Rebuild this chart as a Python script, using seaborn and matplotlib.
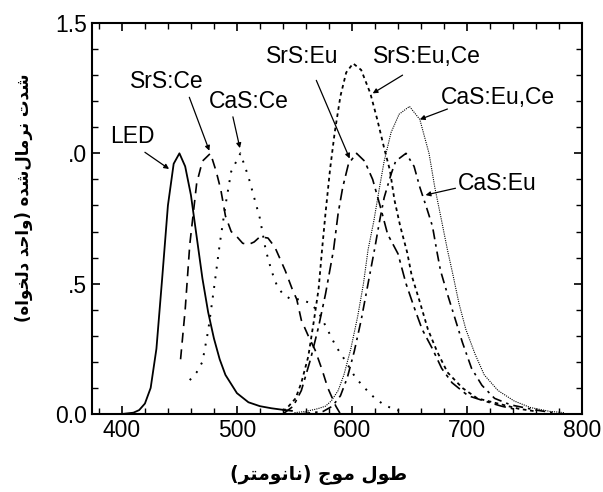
import numpy as np
import pandas as pd
import matplotlib
matplotlib.use("Agg")
import matplotlib.pyplot as plt
import seaborn as sns

# emission spectra (wavelength nm, normalised intensity)
led_wl = [400, 410, 415, 420, 425, 430, 435, 440, 445, 450, 455, 460, 465, 470, 475, 480, 485, 490, 500, 510, 520, 530, 540, 548]
led_y = [0.0, 0.005, 0.015, 0.04, 0.10, 0.25, 0.52, 0.80, 0.96, 1.0, 0.95, 0.84, 0.68, 0.52, 0.39, 0.29, 0.21, 0.15, 0.08, 0.045, 0.03, 0.022, 0.016, 0.012]

srsce_wl = [451, 455, 459, 465, 470, 477, 482, 486, 490, 495, 500, 505, 510, 515, 520, 527, 533, 538, 542, 548, 552, 556, 562, 568, 574, 579, 586, 590]
srsce_y = [0.21, 0.40, 0.65, 0.885, 0.97, 1.0, 0.93, 0.86, 0.76, 0.70, 0.68, 0.655, 0.65, 0.66, 0.68, 0.675, 0.64, 0.59, 0.55, 0.48, 0.44, 0.36, 0.30, 0.245, 0.17, 0.10, 0.03, 0.0]

casce_wl = [459, 465, 470, 475, 480, 485, 490, 495, 503, 510, 515, 520, 525, 530, 535, 540, 547, 555, 564, 571, 578, 586, 592, 603, 611, 620, 628, 638, 647]
casce_y = [0.13, 0.16, 0.20, 0.32, 0.48, 0.65, 0.80, 0.93, 1.0, 0.91, 0.83, 0.75, 0.63, 0.55, 0.49, 0.46, 0.44, 0.44, 0.425, 0.39, 0.33, 0.26, 0.22, 0.14, 0.10, 0.06, 0.035, 0.015, 0.01]

srseu_wl = [540, 549, 556, 564, 571, 577, 584, 588, 592, 597, 604, 611, 618, 625, 631, 640, 647, 654, 661, 670, 678, 687, 701, 715, 730, 745]
srseu_y = [0.0, 0.03, 0.09, 0.21, 0.335, 0.46, 0.63, 0.77, 0.87, 0.96, 1.0, 0.97, 0.90, 0.79, 0.69, 0.615, 0.50, 0.41, 0.325, 0.25, 0.175, 0.12, 0.07, 0.05, 0.03, 0.015]

srseuce_wl = [540, 545, 551, 556, 562, 567, 571, 574, 577, 581, 585, 590, 595, 601, 608, 616, 622, 628, 633, 637, 642, 648, 652, 659, 666, 674, 683, 696, 709, 727, 745, 760]
srseuce_y = [0.01, 0.03, 0.06, 0.12, 0.22, 0.36, 0.48, 0.63, 0.77, 0.94, 1.08, 1.22, 1.31, 1.345, 1.32, 1.23, 1.13, 1.02, 0.935, 0.82, 0.72, 0.62, 0.53, 0.43, 0.325, 0.24, 0.16, 0.10, 0.06, 0.04, 0.02, 0.01]

caseuce_wl = [550, 560, 570, 577, 582, 588, 593, 599, 605, 610, 614, 619, 624, 628, 634, 641, 650, 659, 667, 672, 678, 683, 688, 693, 699, 707, 715, 727, 741, 755, 772, 785]
caseuce_y = [0.005, 0.01, 0.02, 0.03, 0.05, 0.09, 0.15, 0.25, 0.375, 0.50, 0.63, 0.74, 0.87, 0.97, 1.08, 1.15, 1.18, 1.13, 1.0, 0.87, 0.74, 0.63, 0.53, 0.425, 0.325, 0.23, 0.15, 0.09, 0.05, 0.025, 0.01, 0.005]

caseu_wl = [555, 565, 575, 583, 590, 596, 602, 608, 614, 620, 624, 628, 634, 638, 647, 654, 659, 665, 670, 674, 677, 683, 689, 696, 704, 713, 724, 738, 760, 775]
caseu_y = [0.0, 0.005, 0.01, 0.03, 0.07, 0.14, 0.24, 0.36, 0.50, 0.64, 0.74, 0.83, 0.92, 0.97, 1.0, 0.95, 0.87, 0.79, 0.72, 0.62, 0.55, 0.46, 0.375, 0.275, 0.175, 0.11, 0.06, 0.035, 0.015, 0.005]

# label text, (text x, y), (arrow tip x, y), (arrow tail x, y)
labels = ["LED", "SrS:Ce", "CaS:Ce", "SrS:Eu", "SrS:Eu,Ce", "CaS:Eu,Ce", "CaS:Eu"]
label_pos = [(409, 1.065), (439, 1.276), (510, 1.20), (557, 1.37), (665, 1.37), (727, 1.215), (726, 0.885)]
arrow_tip = [(441, 0.94), (476, 1.01), (502.6, 1.02), (598, 0.98), (618, 1.23), (659, 1.13), (664, 0.84)]
arrow_tail = [(420, 1.004), (458.6, 1.215), (496.5, 1.14), (569, 1.28), (644, 1.30), (683, 1.17), (690, 0.866)]

xticks = [400, 500, 600, 700, 800]
yticks = [0.0, 0.5, 1.0, 1.5]
ytick_labels = ["0.0", ".5", ".0", "1.5"]

xlabel = "طول موج (نانومتر)"
ylabel = "شدت نرمال\u200cشده (واحد دلخواه)"


# matplotlib does no arabic shaping, so pick presentation forms by hand
# (isolated, final, initial, medial); 2-tuples are right-joining only
FORMS = {
    "ا": ("\uFE8D", "\uFE8E"), "د": ("\uFEA9", "\uFEAA"),
    "ر": ("\uFEAD", "\uFEAE"), "و": ("\uFEED", "\uFEEE"),
    "ت": ("\uFE95", "\uFE96", "\uFE97", "\uFE98"),
    "ش": ("\uFEB5", "\uFEB6", "\uFEB7", "\uFEB8"),
    "ن": ("\uFEE5", "\uFEE6", "\uFEE7", "\uFEE8"),
    "م": ("\uFEE1", "\uFEE2", "\uFEE3", "\uFEE4"),
    "ل": ("\uFEDD", "\uFEDE", "\uFEDF", "\uFEE0"),
    "ه": ("\uFEE9", "\uFEEA", "\uFEEB", "\uFEEC"),
    "ح": ("\uFEA1", "\uFEA2", "\uFEA3", "\uFEA4"),
    "خ": ("\uFEA5", "\uFEA6", "\uFEA7", "\uFEA8"),
    "ط": ("\uFEC1", "\uFEC2", "\uFEC3", "\uFEC4"),
    "ج": ("\uFE9D", "\uFE9E", "\uFE9F", "\uFEA0"),
}


def shape_rtl(s):
    out = []
    for i, c in enumerate(s):
        if c == "\u200c":
            continue
        if c not in FORMS:
            out.append(c)
            continue
        f = FORMS[c]
        prev = s[i - 1] if i > 0 else ""
        nxt = s[i + 1] if i + 1 < len(s) else ""
        join_prev = prev in FORMS and len(FORMS[prev]) == 4
        join_next = len(f) == 4 and nxt in FORMS
        if join_prev and join_next:
            out.append(f[3])
        elif join_prev:
            out.append(f[1])
        elif join_next:
            out.append(f[2])
        else:
            out.append(f[0])
    vis = "".join(reversed(out))
    return vis.translate(str.maketrans("()", ")("))


sns.set_style("ticks")
plt.rcParams["font.family"] = ["Liberation Sans", "DejaVu Sans"]
plt.rcParams["text.color"] = "black"

fig = plt.figure(figsize=(6.03, 4.92), dpi=100)
ax = fig.add_axes([92 / 603, 78 / 492, 490 / 603, 391 / 492])

series = [
    (led_wl, led_y, "-", 1.3),
    (srsce_wl, srsce_y, (0, (6, 4)), 1.2),
    (casce_wl, casce_y, (0, (1, 4)), 1.4),
    (srseu_wl, srseu_y, (0, (7, 3, 2, 3)), 1.2),
    (srseuce_wl, srseuce_y, (0, (2, 2)), 1.3),
    (caseuce_wl, caseuce_y, (0, (1, 1)), 0.8),
    (caseu_wl, caseu_y, (0, (6, 3, 1.5, 3)), 1.2),
]
for wl, y, ls, lw in series:
    df = pd.DataFrame({"wl": wl, "y": y})
    sns.lineplot(data=df, x="wl", y="y", ax=ax, color="black", linestyle=ls, linewidth=lw)

for name, tp, tip, tail in zip(labels, label_pos, arrow_tip, arrow_tail):
    ax.text(tp[0], tp[1], name, fontsize=16.5, ha="center", va="center", color="black")
    ax.annotate("", xy=tip, xytext=tail,
                arrowprops=dict(arrowstyle="-|>", color="black", lw=0.9,
                                mutation_scale=7, shrinkA=0, shrinkB=0))

ax.set_xlim(374, 800)
ax.set_ylim(0, 1.5)
ax.set_xticks(xticks)
ax.set_xticks(np.arange(380, 800, 20), minor=True)
ax.set_yticks(yticks)
ax.set_yticklabels(ytick_labels)
ax.set_yticks(np.arange(0, 1.5, 0.1), minor=True)
ax.tick_params(which="both", direction="in", top=True, right=True, labelsize=16.5,
               colors="black", labelcolor="black")
ax.tick_params(which="major", length=6, width=1.2)
ax.tick_params(which="minor", length=4, width=1.0)
for sp in ax.spines.values():
    sp.set_linewidth(1.5)
    sp.set_color("black")

ax.set_xlabel(shape_rtl(xlabel), fontsize=13.5, fontweight="bold", family="DejaVu Sans", color="black")
ax.set_ylabel(shape_rtl(ylabel), fontsize=12, fontweight="bold", family="DejaVu Sans", color="black")
ax.xaxis.set_label_coords(0.463, -0.156)
ax.yaxis.set_label_coords(-0.139, 0.552)
ax.xaxis.label.set_va("center")
ax.yaxis.label.set_va("center")

fig.savefig("out.png", dpi=100)
